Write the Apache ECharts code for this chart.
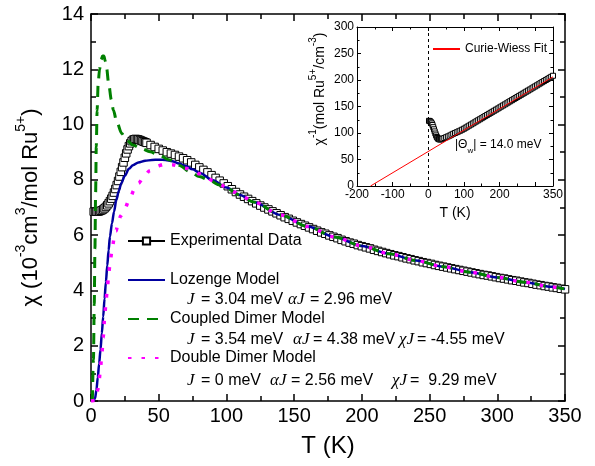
<!DOCTYPE html>
<html><head><meta charset="utf-8">
<script src="https://cdn.jsdelivr.net/npm/echarts@6/dist/echarts.min.js"></script>
<style>html,body{margin:0;padding:0;background:#fff}#c{width:595px;height:466px}</style>
</head><body><div id="c"></div>
<script>
// ---------- DATA ----------
const tempExp = [2,3,4,5,6,7,8,9,10,11,12,13,14,15,16,17,18,19,20,21,22,23,24,25,26,27,28,29,30,31,32,33,34,35,36,37,38,39,40,
  41,44,47,50,53,56,59,62,65,68,71,74,77,80,83,86,89,92,95,98,101,104,107,110,113,116,119,122,125,128,131,134,137,140,
  143,146,149,152,155,158,161,164,167,170,173,176,179,182,185,188,191,194,197,200,203,206,209,212,215,218,221,224,227,230,
  233,236,239,242,245,248,251,254,257,260,263,266,269,272,275,278,281,284,287,290,293,296,299,302,305,308,311,314,317,320,
  323,326,329,332,335,338,341,344,347,350];
const chiExp = [6.85,6.85,6.85,6.85,6.86,6.88,6.9,6.93,6.97,7.02,7.08,7.15,7.23,7.32,7.42,7.54,7.67,7.81,7.96,8.12,8.29,8.46,8.63,8.8,8.96,9.1,9.22,9.32,9.4,9.45,9.47,9.48,9.47,9.46,9.44,9.42,9.4,9.38,9.36,
  9.34,9.26,9.19,9.12,9.06,9.0,8.95,8.9,8.84,8.78,8.71,8.63,8.54,8.45,8.36,8.27,8.17,8.07,7.97,7.87,7.77,7.66,7.56,7.47,7.39,7.31,7.23,7.15,7.07,7.0,6.93,6.86,6.79,6.72,
  6.65,6.59,6.52,6.46,6.4,6.34,6.28,6.22,6.16,6.1,6.05,5.99,5.94,5.89,5.83,5.78,5.73,5.69,5.64,5.6,5.56,5.52,5.47,5.43,5.39,5.35,5.31,5.27,5.24,5.2,
  5.16,5.13,5.09,5.06,5.02,4.99,4.96,4.92,4.89,4.86,4.83,4.8,4.77,4.74,4.71,4.68,4.65,4.62,4.59,4.56,4.54,4.51,4.48,4.45,4.43,4.4,4.37,4.35,4.32,4.29,
  4.27,4.24,4.21,4.19,4.16,4.14,4.11,4.09,4.06,4.04];

const tempLoz = [0,2,3,4,5,6,7,8,9,10,11,12,13,14,15.5,17,18.7,20.5,22.4,25,28,31,35,40,45,50,55,60,65,70,75,80,90,100,110,120,140,160,180,200,220,240,260,280,300,320,340,350];
const chiLoz  = [0,0.02,0.1,0.4,0.85,1.35,1.85,2.45,3.05,3.7,4.3,4.9,5.45,5.95,6.43,6.85,7.27,7.6,7.88,8.15,8.4,8.53,8.63,8.69,8.72,8.73,8.72,8.67,8.59,8.5,8.38,8.26,7.99,7.72,7.45,7.2,6.73,6.31,5.93,5.61,5.33,5.08,4.86,4.66,4.47,4.3,4.13,4.05];

const tempCD = [1,1.8,2.4,2.9,3.4,3.9,4.5,5.3,6.3,7.5,8.5,9.5,10.5,11.5,13,15,16.5,19,22.7,26,31,37,43.6,50,58,65,73,80,88,95,100,110,120,140,160,180,200,220,240,260,280,300,320,340,350];
const chiCD  = [0,1.5,3.5,5.5,7.5,9.2,10.5,11.5,12.0,12.35,12.48,12.48,12.3,12.05,11.5,10.9,10.53,10.1,9.68,9.45,9.26,9.13,9.02,8.9,8.72,8.53,8.3,8.12,7.97,7.81,7.7,7.45,7.2,6.73,6.31,5.93,5.61,5.33,5.08,4.86,4.66,4.47,4.3,4.13,4.05];

const tempDD = [0,3,4,5,6,7,8,9,10,11,12,13,14,15.5,17,18.5,20,22,25,28.6,32,35,39,43.3,48,54,60,65,70,75,80,85,90,95,100,106,110,120,140,160,180,200,220,240,260,280,300,320,340,350];
const chiDD  = [0,0.02,0.15,0.4,0.75,1.2,1.7,2.3,2.95,3.55,4.05,4.55,4.98,5.46,5.85,6.15,6.43,6.7,6.97,7.33,7.64,7.88,8.1,8.33,8.48,8.56,8.55,8.5,8.42,8.33,8.22,8.1,7.97,7.85,7.72,7.56,7.45,7.2,6.73,6.31,5.93,5.61,5.33,5.08,4.86,4.66,4.47,4.3,4.13,4.05];

// inset: inverse susceptibility
const tempInv = [2,4,6,8,10,12,14,16,18,20,22,24,26,28,30,32,34,36,38,40,45,50,55,60,65,70,75,80,85,90,95,100,105,110,115,120,125,130,135,140,
  145,150,155,160,165,170,175,180,185,190,195,200,205,210,215,220,225,230,235,240,245,250,255,260,265,270,275,280,285,290,295,300,305,310,315,320,325,330,335,340,345,350];
const chiInv  = [123,122.5,121.5,120,118,115,111,107,103,99,95.5,92.5,90.5,89,88.3,88,88,88.3,88.8,89.3,90.5,92,93.5,95,96.8,98.5,100,101.5,103,104.5,106.2,108,110,112,114,116,118,120,122,124,
  126,128,130,132,134,136,138,140,142,144,146,148,150,152,154,156,158,160,162,164,166,168,170,172,174,176,178,180,182,184,186,188,190,192,194,196,198,200,202,204,206,208];
const fitT   = [-162, 350];
const fitInv = [0, 206];

const seriesNames = ['Experimental Data','Lozenge Model','Coupled Dimer Model','Double Dimer Model'];
const fitName = 'Curie-Wiess Fit';
const xTicksMain = {min:0, max:350, step:50};
const yTicksMain = {min:0, max:14, step:2};
const xTicksInset = {min:-200, max:350, step:100};
const yTicksInset = {min:0, max:300, step:50};
const paramLines = [
  [['J',1],['= 3.04 meV',0],['αJ',1],['= 2.96 meV',0]],
  [['J',1],['= 3.54 meV',0],['αJ',1],['= 4.38 meV',0],['χJ',1],['= -4.55 meV',0]],
  [['J',1],['= 0 meV',0],['αJ',1],['= 2.56 meV',0],['χJ',1],['=  9.29 meV',0]]
];
const thetaLabel = ['|Θ','w','| = 14.0 meV'];

// ---------- LAYOUT ----------
const FONT = '"Liberation Sans", Arial, sans-serif';
const SERIF = '"Liberation Serif", "Times New Roman", serif';
const zip = (a,b) => a.map((v,i)=>[v,b[i]]);

function axis(gridIndex, pos, ticks, o) {
  o = o || {};
  const a = {
    type:'value', gridIndex, position:pos, min:ticks.min, max:ticks.max, interval:ticks.step,
    axisLine:{show:true, onZero:false, lineStyle:{color:'#000', width:o.lw||1.5}},
    axisTick:{show:true, inside:true, length:o.tl||7, lineStyle:{color:'#000', width:o.lw||1.5}},
    minorTick:{show:true, splitNumber:2, length:o.ml||5, lineStyle:{color:'#000', width:o.lw||1.5}},
    splitLine:{show:false},
    axisLabel:{show:!!o.labels, color:'#000', fontSize:o.fs||20, fontFamily:FONT, margin:o.margin||6,
      showMinLabel:true, showMaxLabel:true}
  };
  if (o.name) {
    a.name = o.name; a.nameLocation='middle'; a.nameGap=o.nameGap;
    a.nameTextStyle = Object.assign({color:'#000', fontSize:o.nfs||24, fontFamily:FONT}, o.nts||{});
  }
  return a;
}

const xAxis = [
  axis(0,'bottom',xTicksMain,{labels:true, margin:5, name:'T (K)', nameGap:33}),
  axis(0,'top',xTicksMain,{}),
  axis(1,'bottom',xTicksInset,{labels:true, fs:12, margin:3, lw:1, tl:4, ml:2.5, name:'T (K)', nameGap:20, nfs:14}),
  axis(1,'top',xTicksInset,{lw:1, tl:4, ml:2.5})
];
const yAxis = [
  axis(0,'left',yTicksMain,{labels:true, margin:7,
    name:'{n|χ (10}{s|-3}{n|cm}{s|3}{n|/mol Ru}{s|5+}{n|)}', nameGap:49,
    nts:{rich:{n:{fontSize:22, fontFamily:FONT, color:'#000', lineHeight:28, verticalAlign:'bottom'},
               s:{fontSize:14, fontFamily:FONT, color:'#000', lineHeight:28, verticalAlign:'top'}}}}),
  axis(0,'right',yTicksMain,{}),
  axis(1,'left',yTicksInset,{labels:true, fs:12, margin:3, lw:1, tl:4, ml:2.5}),
  axis(1,'right',yTicksInset,{lw:1, tl:4, ml:2.5})
];

const series = [
  {name:seriesNames[0], type:'line', xAxisIndex:0, yAxisIndex:0, data:zip(tempExp,chiExp),
   symbol:'rect', symbolSize:7.5, showAllSymbol:true, z:2,
   itemStyle:{color:'#fff', borderColor:'#000', borderWidth:1},
   lineStyle:{color:'#000', width:2.5}},
  {name:seriesNames[1], type:'line', xAxisIndex:0, yAxisIndex:0, data:zip(tempLoz,chiLoz),
   symbol:'none', smooth:0.3, smoothMonotone:'x', z:3, itemStyle:{color:'#0000a0'},
   lineStyle:{color:'#0000a0', width:2.5}},
  {name:seriesNames[2], type:'line', xAxisIndex:0, yAxisIndex:0, data:zip(tempCD,chiCD),
   symbol:'none', smooth:0.3, smoothMonotone:'x', z:4, itemStyle:{color:'#008000'},
   lineStyle:{color:'#008000', width:3, type:[11,8]}},
  {name:seriesNames[3], type:'line', xAxisIndex:0, yAxisIndex:0, data:zip(tempDD,chiDD),
   symbol:'none', smooth:0.3, smoothMonotone:'x', z:5, itemStyle:{color:'#ff00ff'},
   lineStyle:{color:'#ff00ff', width:3.5, type:[3.5,10]}},
  {name:'inv', type:'line', xAxisIndex:2, yAxisIndex:2, data:zip(tempInv,chiInv),
   symbol:'rect', symbolSize:5, showAllSymbol:true, z:2, lineStyle:{color:'#000', width:1},
   itemStyle:{color:'#fff', borderColor:'#000', borderWidth:1}},
  {name:fitName, type:'line', xAxisIndex:2, yAxisIndex:2, data:zip(fitT,fitInv),
   symbol:'none', z:4, itemStyle:{color:'#ff0000'}, lineStyle:{color:'#ff0000', width:1},
   markLine:{silent:true, symbol:'none', label:{show:false}, animation:false,
     lineStyle:{color:'#000', type:[3,3], width:1}, data:[{xAxis:0}]}}
];

// parameter annotation positions
const paramX = [[187,201,288,310],[187,201,293,313,399,417],[187,201,270,291,392,410]];
const paramY = [300,340,381];
const graphic = [];
paramLines.forEach((line,li)=>{
  line.forEach((frag,fi)=>{
    graphic.push({type:'text', x:paramX[li][fi], y:paramY[li], silent:true,
      style:{text:frag[0], fill:'#000', verticalAlign:'middle',
        font: frag[1] ? 'italic 17px '+SERIF : '16px '+FONT}});
  });
});
graphic.push({type:'text', x:455, y:147, silent:true,
  style:{text:'{n|'+thetaLabel[0]+'}{b|'+thetaLabel[1]+'}{n|'+thetaLabel[2]+'}', verticalAlign:'middle',
    rich:{n:{fontSize:12, fontFamily:FONT, fill:'#000', lineHeight:16, verticalAlign:'top'},
          b:{fontSize:8, fontFamily:FONT, fill:'#000', lineHeight:16, verticalAlign:'bottom'}}}});
graphic.push({type:'text', x:318, y:89, rotation:Math.PI/2, silent:true,
  style:{text:'{n|χ}{s|-1}{n|(mol Ru}{s|5+}{n|/cm}{s|-3}{n|)}', align:'center', verticalAlign:'middle',
    rich:{n:{fontSize:14, fontFamily:FONT, fill:'#000', lineHeight:19, verticalAlign:'bottom'},
          s:{fontSize:10, fontFamily:FONT, fill:'#000', lineHeight:19, verticalAlign:'top'}}}});

const hideSym = {opacity:0};
const option = {
  animation:false,
  backgroundColor:'#fff',
  textStyle:{fontFamily:FONT},
  grid:[{left:91, top:14, width:474, height:387},{left:357, top:27, width:196, height:159}],
  legend:[
    {data:[{name:seriesNames[0]},{name:seriesNames[1], itemStyle:hideSym},{name:seriesNames[2], itemStyle:hideSym},{name:seriesNames[3], itemStyle:hideSym}],
     orient:'vertical', left:127, top:231, padding:0, itemWidth:37, itemHeight:9, itemGap:19,
     selectedMode:false, textStyle:{fontSize:16, fontFamily:FONT, color:'#000', lineHeight:20}},
    {data:[{name:fitName, itemStyle:hideSym}], left:432, top:43, padding:0, itemWidth:27, itemHeight:10, selectedMode:false,
     textStyle:{fontSize:12, fontFamily:FONT, color:'#000'}}
  ],
  xAxis, yAxis, series, graphic
};
const chart = echarts.init(document.getElementById('c'), null, {renderer:'canvas'});
chart.setOption(option);
</script></body></html>
